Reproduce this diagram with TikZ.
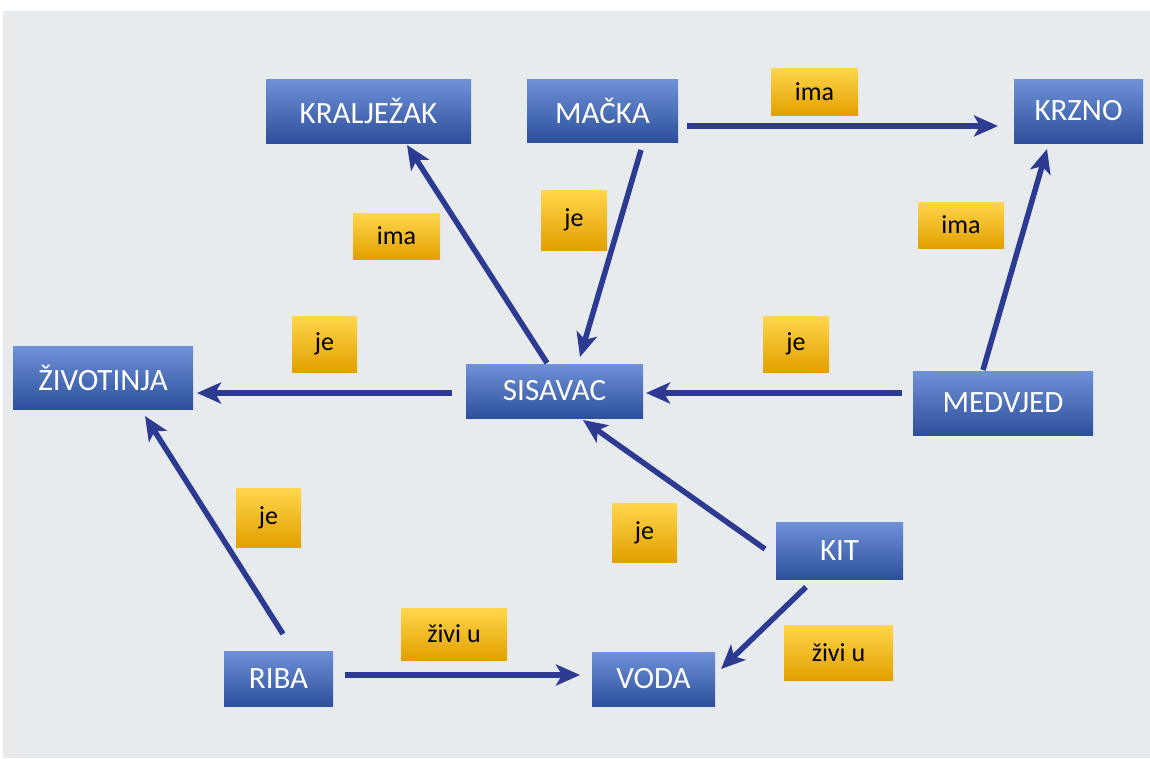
\documentclass[tikz,border=0pt]{standalone}
\usepackage{fontspec}
\setmainfont{Carlito}
\usetikzlibrary{calc,arrows.meta}
\definecolor{bg}{RGB}{231,235,238}
\definecolor{btop}{RGB}{110,145,216}
\definecolor{bbot}{RGB}{46,80,156}
\definecolor{ytop}{RGB}{255,214,76}
\definecolor{ybot}{RGB}{226,160,0}
\definecolor{arrc}{RGB}{44,58,145}
\tikzset{
  cbox/.style={rectangle, inner sep=0pt, top color=btop, bottom color=bbot, draw=none,
    text=white, font=\fontsize{31}{31}\selectfont},
  lbox/.style={rectangle, inner sep=0pt, top color=ytop, bottom color=ybot, draw=none,
    text=black, font=\fontsize{26}{26}\selectfont},
  arr/.style={draw=arrc, line width=5.5pt, -{Stealth[length=24pt,width=21pt,inset=6pt]}}
}
\begin{document}
\begin{tikzpicture}[x=1pt,y=-1pt]
\useasboundingbox (0,0) rectangle (1150,758);
\fill[white] (0,0) rectangle (1150,758);
\fill[bg] (3,11) rectangle (1150,758);
% concept boxes
\node[cbox, minimum width=205, minimum height=64] (kralj) at (368.5,111) {KRALJEŽAK};
\node[cbox, minimum width=151, minimum height=63] (macka) at (602.5,110.5) {MAČKA};
\node[cbox, minimum width=129, minimum height=64] (krzno) at (1078.5,111) {KRZNO};
\node[cbox, minimum width=180, minimum height=63] (zivot) at (103,377.5) {ŽIVOTINJA};
\node[cbox, minimum width=177, minimum height=54] (sisavac) at (554.5,391) {SISAVAC};
\node[cbox, minimum width=180, minimum height=64] (medvjed) at (1003,403) {MEDVJED};
\node[cbox, minimum width=127, minimum height=57] (kit) at (839.5,550.5) {KIT};
\node[cbox, minimum width=109, minimum height=55] (riba) at (278.5,678.5) {RIBA};
\node[cbox, minimum width=123, minimum height=54] (voda) at (653.5,679) {VODA};
% link labels
\node[lbox, minimum width=87, minimum height=47] (l1) at (814.5,91.5) {ima};
\node[lbox, minimum width=87, minimum height=46] (l2) at (396.5,236) {ima};
\node[lbox, minimum width=66, minimum height=60] (l3) at (574,220) {je};
\node[lbox, minimum width=86, minimum height=46] (l4) at (961,225) {ima};
\node[lbox, minimum width=65, minimum height=56] (l5) at (324.5,344) {je};
\node[lbox, minimum width=66, minimum height=56] (l6) at (796,344) {je};
\node[lbox, minimum width=65, minimum height=59] (l7) at (268.5,517.5) {je};
\node[lbox, minimum width=65, minimum height=59] (l8) at (644.5,532.5) {je};
\node[lbox, minimum width=106, minimum height=52] (l9) at (454,634) {živi u};
\node[lbox, minimum width=109, minimum height=55] (l10) at (838.5,652.5) {živi u};
% connectors
\draw[arr] ($(macka)+(84.5,15.5)$) -- ($(krzno)+(-80.5,15)$);
\draw[arr] ($(sisavac)+(-7.5,-28)$) -- ($(kralj)+(38.5,34)$);
\draw[arr] ($(macka)+(38.5,39.5)$) -- ($(sisavac)+(25.5,-34)$);
\draw[arr] ($(sisavac)+(-102.5,2)$) -- ($(zivot)+(94,15.5)$);
\draw[arr] ($(medvjed)+(-101,-10)$) -- ($(sisavac)+(91.5,2)$);
\draw[arr] ($(medvjed)+(-20,-33)$) -- ($(krzno)+(-31.5,38)$);
\draw[arr] ($(kit)+(-74.5,-1.5)$) -- ($(sisavac)+(28.5,29)$);
\draw[arr] ($(kit)+(-33.5,36.5)$) -- ($(voda)+(67.5,-10)$);
\draw[arr] ($(riba)+(4.5,-44.5)$) -- ($(zivot)+(42,38.5)$);
\draw[arr] ($(riba)+(66.5,-3.5)$) -- ($(voda)+(-73.5,-4)$);
\end{tikzpicture}
\end{document}
